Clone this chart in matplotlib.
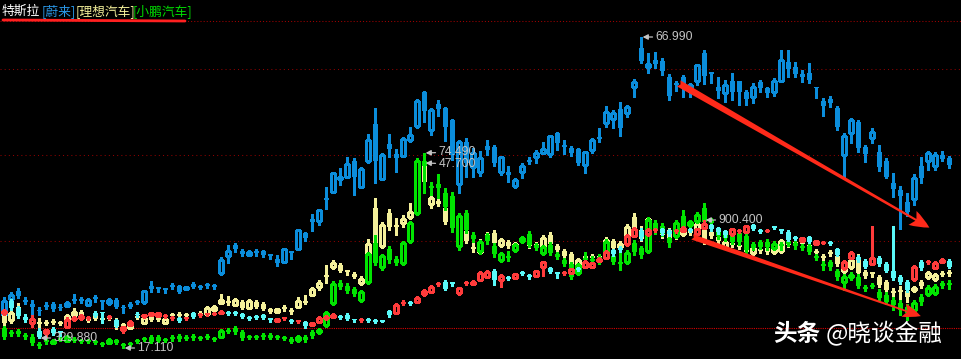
import matplotlib
matplotlib.use("Agg")
import matplotlib.pyplot as plt
from matplotlib.patches import Rectangle, FancyArrowPatch

# ---------------- data (chart levels, one candle per trading day) ----------------
nio_open = [45,61,69,60,56,50,55,56,53,54, 60,60,55,63,59.5,57,60,53,56,58,
            58,74,72,71,74.5,74,71,76,73,75, 75,87,104,115,109,105,108,109,105,101,
            98,108,111,127,141,139,161,168,181,183, 199,173,199,236,181,216,206,204,220,234,
            268,230,256,252,240,176,218,193,188,214, 213,188,188,174,188,199,203,207,206,227,
            214,212,211,195,210,222,237,241,251,247, 273,312,293,300,299,283,276,283,269,279,
            307,287,273,267,279,279,268,263,278,272, 268,279,298,293,286,287,273,259,261,252,
            205,227,238,213,222,208,199,177,170,158, 161,194,199,194,205,202]
nio_close = [59,65,64,58,53,49,53,51,52,57, 59.5,59.5,60,61,59,60,53,52,53,57.5,
             69,71,71.5,70.5,74,68,73,73,72.5,74.5, 73,100,109,111,106,108,107.5,105,104.5,97,
             111,107.5,130,122,138,150,160.5,187,183,196, 183,191,220,199,205,211,202,221,225,259,
             249,250,251,233,205,218,197,207,202,210, 197,203,185,180,194,198.5,207,211,224,217,
             213.5,207,197,208,220,221.5,248,247,232,253, 278,299,296,296,289,264,275.5,273,275,295,
             284,286.5,269,275,268,268,261,273,272,267, 279,300,291,286,283,280,272,254,257,233,
             224,240,212,206,228,193,183,171,164,148, 182,182,207,205,201,195]
nio_high = [63,68,72,63,60,53,58,58,56,59, 66,63,62,65,60,62,62,55,58,60,
            70,79,72,71,77,75,74,78,75,77, 76,103,115,117,111,110,111,110,105,105,
            112,109,131,128,146,151,173,188,192,203, 202,193,226,252,207,226,211,223,233,261,
            269,252,260,253,241,220,222,212,209,220, 215,204,194,182,197,203,210,218,225,228,
            220,214,212,209,222,232,254,250,258,255, 281,323,307,308,302,286,279,285,277,296,
            310,288,283,280,287,279,270,277,280,273, 282,310,310,298,290,297,273,262,264,254,
            227,242,240,215,232,215,202,187,174,167, 186,203,209,208,209,204]
nio_low = [40,58,62,56,43,45,51,49,50,53, 57,57,54,58,51,55,52,47,52,56,
           56,68,68,67,71,67,70,72,71,72, 71,85,97,108,104,104,104,103,101,94,
           97,101,110,119,129,135,151,167,175,182, 165,172,197,177,180,203,188,203,218,232,
           238,225,244,219,200,167,183,183,184,205, 194,185,178,172,182,196,197,206,203,210,
           206,204,195,187,207,218,233,232,224,243, 263,297,287,292,285,260,269,263,263,275,
           276,277,262,258,260,255,255,257,268,263, 264,278,283,283,278,277,262,244,253,230,
           183,217,208,198,217,189,182,163,131,144, 155,177,190,190,199,192]

tsla_open = [47,59,52,43,37,29,27,31,29,33, 41,42,42,47,48,43,40,30,35,46,
             44,45,44,44,42,42,42,47,45,46, 46,47,47,48,46,43,43,45,41,39,
             42,40,39,38,35,38,42,43,44,45, 41,40,40,39,39,49,47,57,57,58,
             66,68,76,78,77,67,77,76,80,83, 89,80,82,82,87,84,84,93,92,87,
             87,87,92,93,93,99,102,110,111,116, 124,129,126,130,131,129,129,129,130,126,
             132,135,132,129,126,129,128,135,129,129, 133,130,128,122,119,123,116,117,118,111,
             92,102,103,99,96,102,96,89,83,78, 81,98,98,92,98,99]
tsla_close = [49,52,44,40,41,23,30,27,27,40, 42,44,42.5,44,47,43.5,34,33,38,45,
              45,47,47,44.5,42.5,39,42.5,43,45.5,46.5, 46.5,48,46.5,46,43,41,42.5,42,40.5,41,
              42.5,38,39.5,34,37,42,43,45,42,41, 40,40.5,39.5,38.5,38.5,45,55,57.5,56.5,62,
              69,73,76.5,71,76.5,72,77.5,78,87,88, 80,84,81.5,86,86.5,83.5,89,98,88,86.5,
              87.5,91,90,98,97,101,108,106,110.5,124, 131,123,130,130.5,127,126,129.5,132,129.5,131,
              136,131,128,125,131,129.5,134,131,128.5,129.5, 132.5,129.5,120,121.5,122,118,119,117.5,116,105,
              98,107,100,93,102,96,89,82,78,70, 93,92,98.5,97,100,93]
tsla_high = [51,61,54,46,45,32,31,33,29,43, 44,46,44,49,48,45,41,34,40,48,
             46,48,48,46,44,43,43,48,47,47, 48,50,49,49,47,44,45,46,41,42,
             43,41,40,39,38,44,45,47,45,47, 41,42,42,41,39,50,57,60,59,64,
             71,75,78,80,77,73,79,80,89,90, 91,86,84,87,89,86,90,98,93,87,
             89,92,93,100,98,103,110,111,114,126, 133,132,132,132,132,131,131,134,132,132,
             140,136,133,130,132,131,135,136,131,131, 134,130,130,124,123,124,120,119,119,112,
             100,109,105,101,134,104,98,134,85,80, 95,100,100,99,102,101]
tsla_low = [45,50,42,38,33,22,23,25,24,32, 39,40,40,43,37,41,33,27,34,43,
            42,44,43,42,40,38,40,42,43,44, 45,46,45,45,42,40,41,41,38,38,
            40,37,37,32,34,37,40,42,41,40, 38,38,38,37,38.5,43,46,55,55,57,
            64,67,74,70,74,65,75,75,79,82, 75,73,80,81,85,81,83,84,87,82,
            85,86,89,92,92,98,101,104,108,114, 123,120,124,128,125,124,127,128,128,125,
            131,129,126,123,124,127,127,130,127,128, 131,127,119,120,118,117,115,116,115,104,
            90,101,98,92,95,94,88,80,76,68, 79,90,96,91,97,92]

li_open = [45,40,53,42,40,37,37,38,37,40, 45,48,40,44,41,42,40,35,32,43,
           37,43,44,37,45,45,45,44,47,46, 50,57,58,55,58,52,58,56,51,48,
           52,49,53,59,65,73,84,93,95,89, 86,77,106,152,114,147,134,137,143,148,
           194,156,159,152,140,134,129,112,108,126, 127,115,118,113,121,115,115,113,125,114,
           109,106,95,103,103,104,109,119,113,123, 143,130,137,133,130,130,127,126,128,129,
           137,128,123,113,116,114,113,107,110,112, 108,109,118,117,117,115,108,104,107,104,
           89,93,103,88,87,83,78,68,69,69, 70,78,83,81,86,87]
li_close = [37,47,45,41.5,39.5,36.5,37.5,38.5,36.5,44, 48,45,40.5,41,40.5,42.5,33,35.5,35,43.5,
            42,40,40,41,45.5,44.5,45.5,44.5,44,52, 53,60,58.5,60,52,59,53,51,48,51,
            52.5,49.5,59,57,71,77,84.5,97,89,88.5, 83,81,116,117,135,133,133.5,141,148,148.5,
            178,162,156,138,134,127,119,111.5,118,123, 117,120,114,116,120.5,114.5,115.5,122,116,110,
            104,96,100,102.5,103.5,101,120,112,116,133, 129,121,141,130,125,120,123,132,127.5,136,
            118,124,119,118,115.5,114.5,108,112,109.5,108, 116,119,115,116.5,117.5,111,107.5,102,106.5,96,
            93,100,87,84,86.5,75,70,67.5,69.5,63, 72,74,87,85,86.5,86.5]
li_high = [47,50,57,45,43,42,40,41,39,46, 52,50,43,46,44,44,42,37,37,46,
           44,45,46,46,47,48,47,46,49,54, 55,66,64,62,60,61,60,58,52,52,
           55,52,63,65,73,80,95,100,97,89, 88,84,121,162,138,151,142,145,157,150,
           197,172,162,155,142,136,132,120,121,128, 130,122,120,118,124,118,118,125,128,116,
           111,108,102,106,106,106,123,121,119,136, 147,134,143,136,133,132,129,134,131,139,
           140,130,125,120,119,117,115,114,113,114, 118,121,120,120,120,117,111,106,110,106,
           95,102,106,90,87,85,80,72,74,72, 74,80,89,87,89,90]
li_low = [35,37,43,38,37,33,35,36,35,39, 42,43,38,40,38,40,31,33,31,41,
          36,39,39,36,43,42,43,42,43,45, 49,56,55,54,51,51,52,50,47,47,
          49,46,52,56,64,70,77,91,88,85, 82,75,104,115,112,130,125,133,141,146,
          175,152,154,136,132,125,117,108,106,121, 115,113,112,111,118,112,112,110,114,108,
          102,94,93,100,100,99,107,110,111,121, 127,119,135,128,122,117,121,124,125,127,
          116,122,117,111,113,111,106,105,107,106, 106,107,113,114,115,109,105,100,104,94,
          87,91,85,82,83,73,68,64,60,58, 68,72,81,79,84,84]

xp_open = [32,27,29,25,23,15,19,17,21,19, 20,20,20,18,16,17,20,15,16,19,
           21,23,23,20,23,24,22,24,22,24, 21,23,29,32,28,23,23,25,25,23,
           22,21,20,23,28,28,35,57,77,74, 71,60,78,117,93,111,101,97,119,147,
           199,173,176,167,164,114,147,125,109,125, 114,100,103,110,119,126,115,107,115,106,
           100,96,87,101,100,103,107,104,97,98, 117,112,109,137,134,122,124,144,135,139,
           152,140,130,126,125,127,124,116,118,118, 112,115,119,117,113,114,104,95,98,89,
           78,83,83,73,74,68,65,60,57,53, 50,63,66,67,77,76]
xp_close = [23,27.5,26,23,17,15.5,19.5,19,21.5,23, 20.5,18,18,18.5,16.5,20,17,14.5,16.5,19.5,
            20.5,18,19,20.5,21,21,22.5,22,21.5,22, 21.5,29,29.5,28,22,22.5,23.5,23,22,22.5,
            22.5,18,23,20,24,30,47,76,73,69, 66,68,106,97,104,100,97,117,137,199,
            194,172.5,172,153,132,144,130,121,118,119, 106,106,102.5,115,122,115,112,113,107,103,
            96,83,95,100.5,100.5,98,118,98,97.5,107, 108,105,140,129,126,117,137,132,138,145,
            138,137,124,122,118,118,110,112,113,113, 116,114.5,116,114,112.5,108,102,94.5,93,83,
            83,85,74,71,74.5,62,58,55,50,47, 57,58,72,73,74,76.5]
xp_high = [34,30,31,27,26,18,22,21,23,25, 23,21,21,20,18,22,21,17,18,21,
           23,25,25,22,25,26,25,26,24,26, 23,31,32,34,30,25,25,27,27,25,
           24,23,25,25,30,32,49,79,80,77, 73,70,108,125,106,114,104,119,139,202,
           207,178,186,172,168,147,150,128,120,127, 117,108,109,117,124,129,117,115,118,108,
           102,98,97,108,104,106,121,107,107,110, 120,114,143,140,137,125,140,150,140,148,
           157,142,133,129,127,130,127,118,120,121, 119,118,122,120,116,116,106,99,100,91,
           86,88,86,75,77,71,68,63,60,56, 60,66,75,76,79,80]
xp_low = [21,24,24,21,15,12,16,16,19,18, 18,17,17,16,14,16,16,12,14,17,
          19,17,18,18,19,19,20,20,20,21, 19,22,27,26,20,21,21,21,21,21,
          20,17,18,18,22,26,33,55,71,67, 64,58,76,95,90,97,95,95,117,145,
          167,165,162,150,128,110,127,118,106,116, 103,98,99,108,117,113,110,105,105,101,
          94,81,85,93,96,96,105,96,90,96, 105,102,107,126,124,113,122,130,132,137,
          135,133,121,119,116,115,107,110,111,110, 110,110,114,111,110,106,100,90,90,80,
          70,80,72,69,72,60,56,50,45,40, 47,55,64,65,72,71]

series_names = ["特斯拉", "[蔚来]", "[理想汽车]", "[小鹏汽车]"]
grid_levels = [291, 205, 119]
base_level = 32
top_level = 339
# extreme-value labels: (candle index, label text, source series, vertical nudge px)
extreme_labels = [(91, "66.990", "nio_high", 0), (60, "74.490", "xp_high", 1),
                  (60, "47.700", "li_high", -1), (100, "900.400", "tsla_high", 0),
                  (5, "329.880", "tsla_low", 0), (17, "17.110", "xp_low", 0)]

# ---------------- styles ----------------
C_NIO = "#0B8DDB"
C_LI = "#F4F09A"
C_XP = "#00E400"
C_TUP = "#FF3B3B"
C_TDN = "#5AF8F8"
C_LBL = "#C4C4C4"
CJK = ["Noto Sans CJK SC", "DejaVu Sans"]

W, H = 961, 359
fig = plt.figure(figsize=(W / 100, H / 100), dpi=100, facecolor="black")
ax = fig.add_axes([0, 0, 1, 1])
ax.set_facecolor("black")
ax.set_xlim((0 - 4.3) / 7, (W - 4.3) / 7)
ax.set_ylim(1, 360)
ax.axis("off")

# grid lines
for g in grid_levels:
    ax.axhline(g, color="#8E0000", lw=0.75, ls=(0, (1, 3)), zorder=1)
ax.axhline(base_level, color="#D80000", lw=0.8, ls=(0, (1, 1)), zorder=1)
ax.axhline(top_level, color="#A00000", lw=0.75, ls=(0, (1, 2)), zorder=1)


def draw_series(o, h, l, c, up_col, dn_col, z):
    bw = 5 / 7
    hw = 4 / 7
    for i in range(len(o)):
        oi, hi, li, ci = o[i], h[i], l[i], c[i]
        top, bot = max(oi, ci), min(oi, ci)
        up = ci >= oi
        col = up_col if up else dn_col
        kw = dict(color=col, lw=0.75, zorder=z, antialiased=False, solid_capstyle="butt")
        if top - bot < 1.0:
            mid = (top + bot) / 2
            ax.plot([i, i], [li, hi], **kw)
            ax.plot([i - bw / 2, i + bw / 2], [mid, mid], color=col, lw=1.3, zorder=z,
                    antialiased=False, solid_capstyle="butt")
        elif up:
            if hi > top:
                ax.plot([i, i], [top, hi], **kw)
            if li < bot:
                ax.plot([i, i], [li, bot], **kw)
            ax.add_patch(Rectangle((i - hw / 2, bot), hw, top - bot, facecolor="black",
                                   edgecolor=col, lw=0.75, zorder=z, antialiased=False))
        else:
            ax.plot([i, i], [li, hi], **kw)
            ax.add_patch(Rectangle((i - bw / 2, bot), bw, top - bot, facecolor=col,
                                   edgecolor="none", zorder=z, antialiased=False))


draw_series(nio_open, nio_high, nio_low, nio_close, C_NIO, C_NIO, 2)
draw_series(li_open, li_high, li_low, li_close, C_LI, C_LI, 3)
draw_series(xp_open, xp_high, xp_low, xp_close, C_XP, C_XP, 4)
draw_series(tsla_open, tsla_high, tsla_low, tsla_close, C_TUP, C_TDN, 5)

lookup = {"nio_high": nio_high, "xp_high": xp_high, "li_high": li_high,
          "tsla_high": tsla_high, "tsla_low": tsla_low, "xp_low": xp_low}
for idx, txt, key, dy in extreme_labels:
    ax.annotate(txt, xy=(idx, lookup[key][idx]), xytext=(14, dy), textcoords="offset pixels",
                ha="left", va="center", color=C_LBL, fontsize=8.7, family="Liberation Sans",
                zorder=8,
                arrowprops=dict(arrowstyle="-|>,head_length=0.35,head_width=0.18", color=C_LBL,
                                lw=0.9, shrinkA=0, shrinkB=1))

# hand-drawn red arrows
a1 = FancyArrowPatch(posA=(96.0, 278), posB=(132.5, 131),
                     arrowstyle="fancy,head_length=1.4,head_width=1.15,tail_width=0.5",
                     mutation_scale=10, color="#FF2A1A", lw=0, zorder=9)
ax.add_patch(a1)
a2 = FancyArrowPatch(posA=(97.9, 124), posB=(131.3, 43),
                     arrowstyle="fancy,head_length=1.3,head_width=1.0,tail_width=0.4",
                     mutation_scale=10, color="#FF2A1A", lw=0, zorder=9)
ax.add_patch(a2)

# title row with underline
title_cols = ["#FFFFFF", "#2A98E8", "#F4F09A", "#00D800"]
title_x = [2, 42, 76, 133]
for name, col, x in zip(series_names, title_cols, title_x):
    fig.text(x / W, 1 - 11.5 / H, name, color=col, fontsize=9.2, family=CJK,
             ha="left", va="center")
ax.plot([3 / W, 185 / W], [1 - 20 / H, 1 - 21 / H], transform=ax.transAxes,
        color="#FF2020", lw=2.0, solid_capstyle="round", zorder=10)

# watermark
fig.text(773 / W, 1 - 334 / H, "头条", color="white", fontsize=17, family=CJK,
         fontweight="bold", ha="left", va="center", zorder=10)
fig.text(826 / W, 1 - 334 / H, "@晓谈金融", color="white", fontsize=17, family=CJK,
         ha="left", va="center", zorder=10)

fig.savefig("out.png", dpi=100, facecolor="black")
